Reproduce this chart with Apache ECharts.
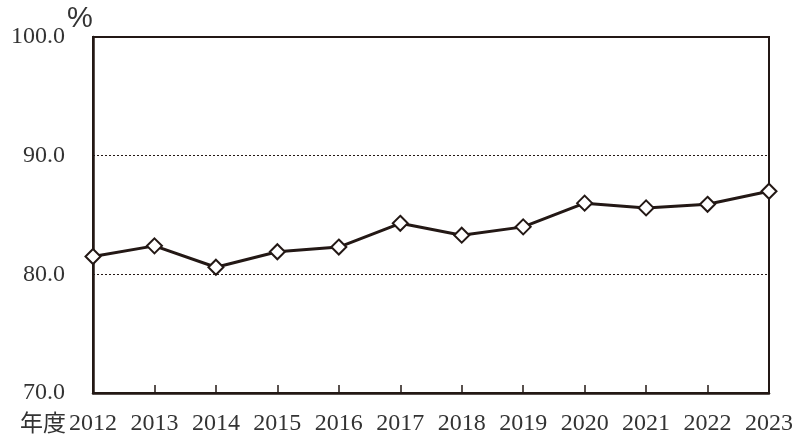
<!DOCTYPE html>
<html>
<head>
<meta charset="utf-8">
<script src="https://cdn.jsdelivr.net/npm/echarts@6/dist/echarts.min.js"></script>
<style>
  html, body { margin: 0; padding: 0; background: #fff; }
  #view { width: 792px; height: 438px; }
</style>
</head>
<body>
<div id="view"></div>
<script>
// fiscal years and rate (%)
let years = ["2012", "2013", "2014", "2015", "2016", "2017", "2018", "2019", "2020", "2021", "2022", "2023"];
let rates = [81.5, 82.4, 80.6, 81.9, 82.3, 84.3, 83.3, 84.0, 86.0, 85.6, 85.9, 87.0];
let yMin = 70;
let yMax = 100;
let yStep = 10;

let ink = "#231815";
let textColor = "#333";
let numFont = "'Liberation Serif', 'DejaVu Serif', serif";

let myChart = echarts.init(document.getElementById("view"));

let option = {
  backgroundColor: "#fff",
  animation: false,
  grid: {
    left: 93,
    right: 23,
    top: 37,
    bottom: 45,
    outerBoundsMode: "none",
    containLabel: false,
    show: true,
    borderColor: ink,
    borderWidth: 2,
  },
  graphic: [
    {
      type: "text",
      left: 20,
      top: 411,
      style: {
        text: "年度",
        font: "23px 'Noto Sans CJK JP'",
        fill: textColor,
      },
    },
    {
      // unit label
      type: "text",
      left: 67,
      top: 4,
      style: {
        text: "%",
        font: "29px 'Liberation Sans'",
        fill: textColor,
      },
    },
  ],
  xAxis: {
    type: "category",
    boundaryGap: false,
    data: years,
    axisLine: { lineStyle: { color: ink, width: 2.5 } },
    axisTick: { inside: true, length: 8, lineStyle: { color: ink, width: 1.5 } },
    axisLabel: {
      interval: 0,
      margin: 19,
      color: textColor,
      fontSize: 24,
      fontFamily: numFont,
    },
    splitLine: { show: false },
  },
  yAxis: {
    type: "value",
    min: yMin,
    max: yMax,
    interval: yStep,
    axisLine: { show: true, lineStyle: { color: ink, width: 2.5 } },
    axisTick: { show: false },
    axisLabel: {
      margin: 28,
      color: textColor,
      fontSize: 24,
      fontFamily: numFont,
      padding: [4, 0, 0, 0],
      formatter: (v) => v.toFixed(1),
    },
    splitLine: {
      show: true,
      lineStyle: { color: ink, width: 1, type: [2, 2] },
    },
  },
  series: [
    {
      name: "rate",
      type: "line",
      data: rates,
      symbol: "diamond",
      symbolSize: 15,
      showAllSymbol: true,
      lineStyle: { color: ink, width: 3 },
      itemStyle: { color: "#fff", borderColor: ink, borderWidth: 2 },
      z: 5,
    },
  ],
};
myChart.setOption(option);
</script>
</body>
</html>
